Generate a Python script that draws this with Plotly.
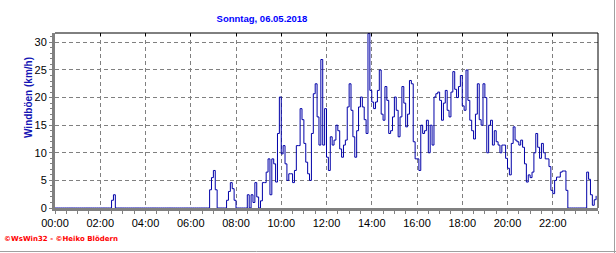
import pandas as pd
import plotly.graph_objects as go

title_text = "Sonntag, 06.05.2018"
y_title = "Windböen (km/h)"
credit_text = "©WsWin32 - ©Heiko Blödern"

# 5-minute wind gust values (km/h), one list per hour
h00 = [0, 0, 0, 0, 0, 0, 0, 0, 0, 0, 0, 0]
h01 = [0, 0, 0, 0, 0, 0, 0, 0, 0, 0, 0, 0]
h02 = [0, 0, 0, 0, 0, 0, 1.4, 2.4, 0, 0, 0, 0]
h03 = [0, 0, 0, 0, 0, 0, 0, 0, 0, 0, 0, 0]
h04 = [0, 0, 0, 0, 0, 0, 0, 0, 0, 0, 0, 0]
h05 = [0, 0, 0, 0, 0, 0, 0, 0, 0, 0, 0, 0]
h06 = [0, 0, 0, 0, 0, 0, 0, 0, 0, 0, 3.3, 5.5]
h07 = [6.8, 3.3, 0, 0, 0, 0, 0, 1.4, 3.0, 4.6, 3.5, 1.4]
h08 = [0, 0, 0, 0, 0, 0, 2.4, 0, 2.4, 1.0, 4.6, 2.0]
h09 = [0, 1.3, 4.6, 4.6, 6.5, 8.9, 2.4, 8.9, 8.0, 4.7, 13.5, 20.1]
h10 = [9.8, 11.3, 8.0, 5.0, 6.2, 6.2, 4.6, 6.8, 11.3, 11.3, 18.0, 16.0]
h11 = [11.7, 8.3, 6.2, 5.0, 13.5, 20.7, 22.5, 16.5, 11.4, 26.9, 11.4, 18.0]
h12 = [9.2, 6.8, 12.9, 11.4, 12.3, 15.0, 14.0, 10.7, 9.2, 11.4, 12.3, 18.3]
h13 = [22.5, 17.7, 12.9, 9.2, 14.0, 18.3, 20.1, 18.3, 16.0, 13.5, 31.6, 21.3]
h14 = [19.2, 18.0, 19.2, 21.3, 25.0, 17.0, 15.9, 22.0, 19.5, 13.5, 14.0, 16.5]
h15 = [20.1, 17.7, 12.9, 16.5, 22.0, 19.0, 14.7, 17.0, 23.1, 22.5, 12.0, 8.9]
h16 = [8.9, 6.8, 15.0, 13.5, 14.0, 15.9, 10.0, 15.0, 11.4, 20.1, 20.7, 21.0]
h17 = [19.5, 15.9, 19.0, 21.3, 17.7, 16.5, 21.0, 24.7, 21.5, 20.0, 22.0, 24.0]
h18 = [18.5, 17.7, 25.0, 19.5, 15.9, 14.0, 12.5, 17.0, 22.5, 16.0, 15.0, 22.5]
h19 = [20.0, 10.0, 15.0, 15.9, 11.4, 14.0, 12.0, 11.4, 10.0, 11.4, 11.4, 9.0]
h20 = [7.2, 6.0, 11.7, 14.7, 12.3, 12.0, 11.4, 12.3, 11.0, 8.0, 4.7, 6.0]
h21 = [5.5, 6.5, 10.0, 13.5, 11.0, 9.0, 11.7, 10.0, 8.9, 8.9, 7.5, 3.2]
h22 = [2.6, 5.0, 5.6, 5.6, 6.5, 6.7, 6.7, 3.2, 0, 0, 0, 0]
h23 = [0, 0, 0, 0, 0, 0, 6.5, 5.2, 2.4, 0.5, 1.5, 2.2]

gusts = (h00 + h01 + h02 + h03 + h04 + h05 + h06 + h07 + h08 + h09 + h10 + h11
         + h12 + h13 + h14 + h15 + h16 + h17 + h18 + h19 + h20 + h21 + h22 + h23)
times = pd.date_range("2018-05-06 00:00", periods=len(gusts), freq="5min")

# x tick labels every two hours (00:00 ... 22:00)
x_tick_labels = ["00:00", "02:00", "04:00", "06:00", "08:00", "10:00",
                 "12:00", "14:00", "16:00", "18:00", "20:00", "22:00"]
x_tick_vals = ["2018-05-06 " + t for t in x_tick_labels]

W, H = 616, 253
L, R, T, B = 55, 18, 33, 45
pw, ph = W - L - R, H - T - B


def px_x(x):
    return (x - L) / pw


def px_y(y):
    return (H - B - y) / ph


GRID = "#808080"
tickfont = dict(family="Liberation Sans, Arial, sans-serif", size=11, color="black")

fig = go.Figure()
fig.add_trace(go.Scatter(
    x=times, y=gusts, mode="lines",
    line=dict(color="#0000a8", width=1, shape="hv"),
    hoverinfo="skip", showlegend=False,
))
# invisible trace to show top-axis tick marks
fig.add_trace(go.Scatter(
    x=[times[0]], y=[0], xaxis="x2", mode="markers",
    marker=dict(opacity=0), hoverinfo="skip", showlegend=False,
))

xr = ["2018-05-06 00:00:00", "2018-05-06 23:59:59"]
fig.update_layout(
    width=W, height=H,
    margin=dict(l=L, r=R, t=T, b=B, pad=0),
    paper_bgcolor="white", plot_bgcolor="white",
    showlegend=False,
    title=dict(
        text="<b>" + title_text + "</b>",
        x=262 / W, xanchor="center", y=1 - 19 / H, yanchor="middle",
        font=dict(family="Liberation Sans, Arial, sans-serif", size=9.5, color="#0000ff"),
    ),
    xaxis=dict(
        type="date", range=xr,
        tickmode="array", tickvals=x_tick_vals, ticktext=x_tick_labels,
        showgrid=True, gridcolor=GRID, gridwidth=1, griddash="4px,3px",
        showline=True, linecolor=GRID, linewidth=3,
        ticks="outside", ticklen=3, tickcolor=GRID, tickwidth=1,
        minor=dict(dtick=30 * 60 * 1000, tick0="2018-05-06 00:00", ticks="outside",
                   ticklen=3, tickcolor=GRID, showgrid=False),
        tickfont=tickfont, zeroline=False, fixedrange=True,
    ),
    xaxis2=dict(
        type="date", range=xr, overlaying="x", side="top",
        tickmode="array", tickvals=x_tick_vals,
        ticks="inside", ticklen=3, tickcolor="black",
        showticklabels=False, showgrid=False, showline=False, zeroline=False,
    ),
    yaxis=dict(
        range=[0, 31.7], tick0=0, dtick=5,
        showgrid=True, gridcolor=GRID, gridwidth=1, griddash="4px,3px",
        showline=True, linecolor=GRID, linewidth=3,
        ticks="outside", ticklen=3, tickcolor=GRID,
        minor=dict(dtick=1, ticks="outside", ticklen=2, tickcolor=GRID, showgrid=False),
        tickfont=tickfont, zeroline=False, fixedrange=True,
    ),
    shapes=[
        dict(type="line", xref="paper", yref="paper", x0=0, x1=1, y0=1, y1=1,
             line=dict(color="black", width=1)),
        dict(type="line", xref="paper", yref="paper", x0=1, x1=1, y0=0, y1=1,
             line=dict(color="black", width=1)),
        dict(type="line", xref="paper", yref="paper",
             x0=px_x(614.5), x1=px_x(614.5), y0=px_y(H), y1=px_y(0),
             line=dict(color="#a0a0a0", width=1)),
        dict(type="line", xref="paper", yref="paper",
             x0=px_x(0), x1=px_x(W), y0=px_y(251.5), y1=px_y(251.5),
             line=dict(color="#a0a0a0", width=1)),
    ],
    annotations=[
        dict(text="<b>" + y_title + "</b>", textangle=-90,
             xref="paper", yref="paper", x=px_x(28), y=px_y(98),
             xanchor="center", yanchor="middle", showarrow=False,
             font=dict(family="Liberation Sans, Arial, sans-serif", size=10, color="#1414b4")),
        dict(text="<b>" + credit_text + "</b>",
             xref="paper", yref="paper", x=px_x(2), y=px_y(238.5),
             xanchor="left", yanchor="middle", showarrow=False,
             font=dict(family="DejaVu Sans, sans-serif", size=7, color="#ff0000")),
    ],
)

fig.write_html("out.html")
